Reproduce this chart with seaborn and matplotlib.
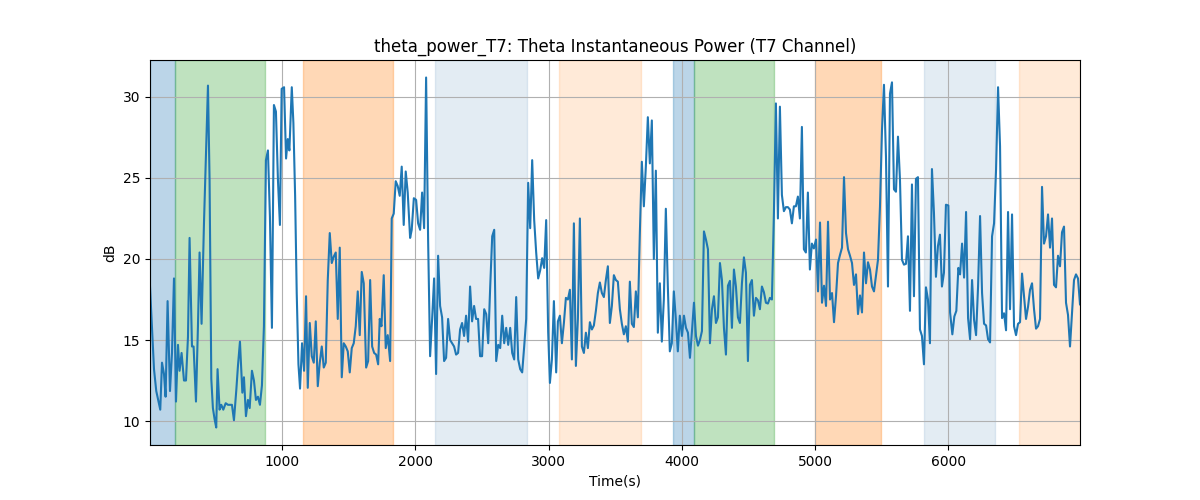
import matplotlib
matplotlib.use("Agg")
import matplotlib.pyplot as plt
import seaborn as sns

# sample times (s)
time_s = [
    9, 39, 56, 86, 99, 114, 126, 141, 159, 174, 189, 204, 219, 231, 246, 264, 279, 294, 306, 324,
    336, 354, 369, 381, 396, 414, 429, 444, 456, 469, 481, 494, 506, 516, 531, 544, 559, 577, 594, 609,
    624, 639, 657, 669, 684, 702, 714, 729, 744, 757, 774, 789, 804, 819, 834, 849, 864, 879, 894, 909,
    924, 939, 954, 969, 984,
    997, 1015, 1030, 1043, 1055, 1073, 1085, 1098, 1110, 1123, 1135, 1150, 1165, 1180, 1193, 1208, 1223, 1238, 1253, 1268,
    1283, 1298, 1313, 1328, 1343, 1358, 1373, 1388, 1403, 1418, 1433, 1448, 1463, 1478, 1493, 1508, 1523, 1538, 1553, 1568,
    1583, 1598, 1613, 1631, 1646, 1661, 1676, 1691, 1706, 1721, 1733, 1746, 1763, 1778, 1793, 1811, 1823, 1838, 1853, 1868,
    1883, 1898, 1913, 1928, 1943, 1961, 1973,
    1989, 2006, 2021, 2036, 2051, 2066, 2081, 2096, 2111, 2126, 2141, 2156, 2171, 2186, 2201, 2216, 2231, 2246, 2261, 2276,
    2291, 2306, 2321, 2336, 2351, 2366, 2381, 2396, 2411, 2426, 2441, 2456, 2471, 2486, 2501, 2517, 2532, 2547, 2562, 2577,
    2592, 2607, 2622, 2637, 2652, 2667, 2682, 2697, 2712, 2727, 2742, 2757, 2772, 2787, 2802, 2817, 2832, 2847, 2862, 2877,
    2892, 2907, 2922, 2937, 2952, 2967, 2982, 2997, 3010,
    3025, 3040, 3057, 3070, 3085, 3100, 3115, 3130, 3145, 3160, 3175, 3190, 3205, 3220, 3235, 3250, 3265, 3280, 3295, 3310,
    3325, 3340, 3355, 3370, 3385, 3400, 3415, 3430, 3445, 3460, 3475, 3490, 3505, 3520, 3535, 3550, 3565, 3580, 3595, 3610,
    3625, 3640, 3655, 3670, 3685, 3700, 3715, 3730, 3745, 3760, 3775, 3790, 3805, 3820, 3835, 3850, 3865, 3880, 3895, 3910,
    3925, 3940, 3955, 3970, 3985,
    4001, 4016, 4031, 4046, 4061, 4076, 4091, 4106, 4121, 4136, 4151, 4166, 4181, 4196, 4211, 4226, 4241, 4256, 4271, 4286,
    4301, 4316, 4331, 4346, 4361, 4376, 4391, 4406, 4421, 4436, 4451, 4466, 4481, 4496, 4511, 4526, 4541, 4556, 4571, 4586,
    4601, 4616, 4631, 4646, 4661, 4676, 4691, 4706, 4721, 4736, 4751, 4766, 4781, 4796, 4811, 4826, 4841, 4856, 4871, 4886,
    4901, 4916, 4931, 4946, 4961, 4976, 4991,
    5007, 5022, 5037, 5052, 5067, 5082, 5097, 5112, 5127, 5142, 5157, 5172, 5187, 5202, 5217, 5232, 5247, 5262, 5277, 5292,
    5307, 5322, 5337, 5352, 5367, 5382, 5397, 5412, 5427, 5442, 5457, 5472, 5487, 5502, 5517, 5532, 5547, 5562, 5577, 5592,
    5607, 5622, 5637, 5652, 5667, 5682, 5697, 5712, 5727, 5742, 5757, 5772, 5787, 5802, 5817, 5832, 5847, 5862, 5877, 5892,
    5907, 5922, 5937, 5952, 5967, 5982,
    6000, 6013, 6030, 6045, 6060, 6075, 6088, 6103, 6118, 6133, 6148, 6163, 6178, 6193, 6208, 6223, 6238, 6253, 6268, 6283,
    6298, 6313, 6328, 6343, 6358, 6373, 6388, 6403, 6418, 6433, 6448, 6463, 6478, 6493, 6508, 6523, 6538, 6553, 6568, 6583,
    6598, 6613, 6628, 6643, 6658, 6673, 6688, 6703, 6718, 6733, 6748, 6763, 6778, 6793, 6808, 6823, 6838, 6853, 6868, 6883,
    6898, 6913, 6928, 6943, 6958, 6973, 6988,
]

# theta power (dB) at those times
theta_db = [
    18.3, 13.2, 11.85, 10.7, 13.6, 12.9, 11.5, 17.4, 11.85, 14.2, 18.8, 11.2, 14.7, 13.1, 14.2, 12.5, 12.5, 15.2, 21.3, 14.6,
    14.6, 11.2, 15.9, 20.4, 16.0, 22.2, 26.5, 30.7, 24.9, 12.6, 10.8, 10.1, 9.6, 13.2, 10.7, 11.0, 10.7, 11.1, 11.0, 11.0,
    11.0, 10.05, 11.95, 13.4, 14.9, 11.75, 12.7, 10.3, 11.3, 10.8, 13.1, 12.5, 11.3, 11.5, 11.0, 12.2, 15.85, 26.1, 26.7, 22.6,
    15.75, 29.5, 29.1, 24.9, 22.1,
    30.5, 30.6, 26.2, 27.4, 26.7, 30.6, 28.4, 23.9, 17.9, 13.5, 12.0, 14.8, 13.1, 17.7, 12.05, 16.05, 14.0, 13.6, 16.15, 12.15,
    13.6, 14.6, 13.3, 13.6, 18.7, 21.6, 19.75, 20.15, 20.4, 16.3, 20.7, 12.7, 14.8, 14.6, 14.3, 13.0, 14.5, 14.8, 15.85, 18.0,
    15.3, 19.2, 18.5, 13.3, 13.7, 18.7, 14.6, 14.2, 14.1, 13.5, 16.3, 15.85, 19.0, 14.5, 15.3, 13.7, 22.5, 22.8, 24.8, 24.5,
    23.9, 25.7, 22.1, 25.4, 24.1, 21.3, 21.8,
    23.75, 23.65, 22.2, 21.8, 24.1, 21.9, 31.2, 21.2, 14.0, 16.3, 18.8, 12.9, 20.2, 17.1, 16.4, 13.7, 13.9, 16.3, 15.0, 14.8,
    14.6, 14.1, 14.2, 15.65, 16.05, 15.25, 16.5, 14.9, 18.3, 16.15, 17.1, 16.3, 16.3, 14.0, 14.0, 16.9, 16.6, 14.8, 18.3, 21.4,
    21.8, 13.7, 14.7, 14.5, 16.5, 14.8, 15.75, 14.7, 15.75, 14.2, 13.8, 17.65, 13.8, 13.2, 13.0, 14.6, 16.3, 24.7, 21.9, 26.1,
    22.4, 20.4, 18.8, 19.3, 20.05, 19.45, 22.4, 15.5, 12.35,
    13.8, 17.4, 13.0, 16.15, 16.5, 14.8, 16.05, 17.6, 17.5, 18.1, 13.8, 22.2, 13.4, 16.3, 22.5, 14.6, 14.2, 15.45, 14.5, 16.1,
    15.65, 15.9, 16.8, 17.9, 18.55, 17.9, 17.65, 18.7, 19.55, 16.05, 17.1, 19.0, 18.7, 18.6, 16.9, 16.0, 15.35, 15.85, 14.9, 18.6,
    16.0, 15.8, 18.0, 16.4, 21.6, 26.0, 23.25, 25.7, 28.75, 25.9, 28.55, 20.0, 25.45, 15.45, 18.5, 14.9, 17.5, 23.1, 18.3, 14.3,
    14.8, 18.0, 16.3, 14.3, 16.5,
    15.25, 16.5, 15.75, 15.45, 13.9, 15.55, 17.3, 15.25, 14.65, 15.0, 15.55, 21.7, 21.2, 20.6, 14.8, 16.9, 17.7, 16.05, 16.4, 19.75,
    18.7, 15.75, 14.1, 18.35, 18.65, 15.75, 19.35, 18.3, 16.4, 16.05, 18.5, 20.1, 19.15, 13.7, 18.4, 18.7, 16.5, 17.6, 17.45, 16.9,
    18.3, 17.95, 17.3, 17.25, 17.6, 17.5, 22.8, 29.6, 22.5, 29.4, 23.95, 22.95, 23.2, 23.2, 23.05, 22.2, 23.25, 23.25, 23.85, 22.5,
    28.15, 20.6, 20.4, 24.1, 19.35, 20.95, 20.65,
    21.2, 18.0, 22.25, 17.3, 18.35, 17.1, 22.3, 17.5, 17.9, 16.1, 17.7, 19.75, 20.25, 20.7, 25.05, 21.6, 20.6, 20.2, 19.75, 18.4,
    19.05, 16.6, 17.75, 16.7, 20.4, 18.5, 19.8, 19.35, 18.3, 18.0, 18.95, 19.95, 23.25, 27.95, 30.75, 26.3, 18.3, 30.2, 30.9, 24.3,
    24.15, 27.55, 24.9, 19.95, 19.65, 19.7, 21.4, 16.8, 24.6, 17.7, 24.95, 25.05, 15.65, 15.25, 13.5, 18.25, 17.5, 14.8, 25.55, 22.85,
    18.9, 20.8, 21.5, 18.3, 19.15, 23.35,
    23.3, 16.7, 15.35, 16.45, 16.8, 19.45, 19.05, 20.95, 18.85, 22.9, 16.35, 15.05, 18.7, 16.25, 15.3, 18.3, 22.65, 17.9, 16.0, 15.9,
    15.05, 14.85, 21.4, 22.2, 25.5, 30.6, 26.95, 16.35, 16.65, 15.6, 22.9, 16.9, 22.75, 15.85, 15.3, 16.0, 16.1, 19.1, 17.7, 16.3,
    17.05, 18.1, 18.5, 16.9, 15.7, 15.85, 16.3, 24.45, 20.95, 21.4, 22.75, 20.7, 22.5, 18.4, 18.25, 20.2, 19.55, 21.65, 22.0, 17.3,
    16.55, 14.6, 16.65, 18.7, 19.05, 18.8, 17.2,
]

# shaded epochs (start, end) in seconds
span_starts = [9, 195, 1156, 2147, 3080, 3937, 4088, 4998, 5814, 6533]
span_ends = [195, 874, 1830, 2839, 3692, 4088, 4690, 5494, 6351, 6988]
span_styles = [
    ("tab:blue", 0.3), ("tab:green", 0.3), ("tab:orange", 0.3), ("steelblue", 0.15),
    ("tab:orange", 0.16), ("tab:blue", 0.3), ("tab:green", 0.3), ("tab:orange", 0.3),
    ("steelblue", 0.15), ("tab:orange", 0.16),
]

fig, ax = plt.subplots(figsize=(12, 5), dpi=100)

for start, end, (color, alpha) in zip(span_starts, span_ends, span_styles):
    ax.axvspan(start, end, color=color, alpha=alpha, lw=1)

sns.lineplot(x=time_s, y=theta_db, color="tab:blue", lw=1.5, ax=ax)

ax.set_xlim(time_s[0], time_s[-1])
ax.set_title("theta_power_T7: Theta Instantaneous Power (T7 Channel)")
ax.set_xlabel("Time(s)")
ax.set_ylabel("dB")
ax.grid(True)

fig.savefig("out.png", dpi=100)
